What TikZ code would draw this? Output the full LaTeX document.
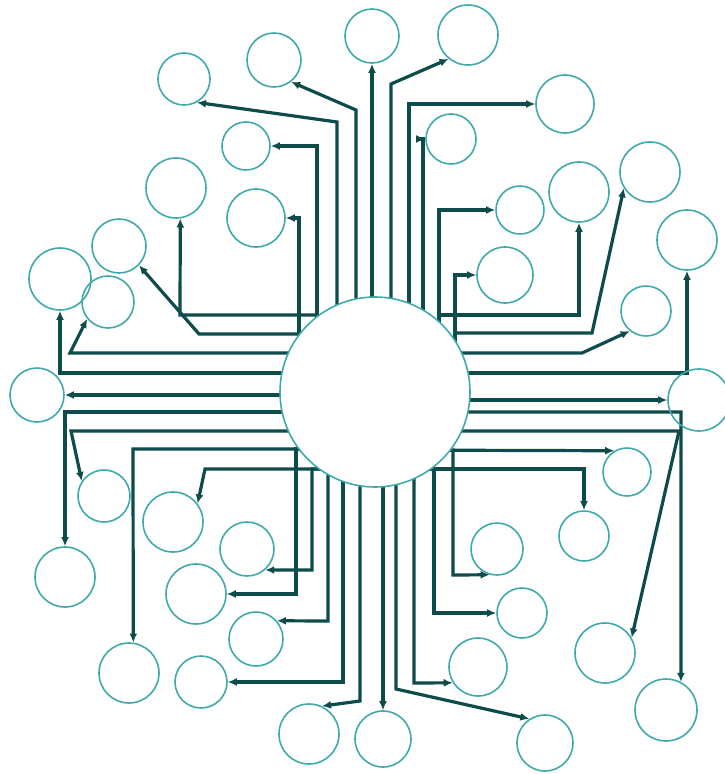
\documentclass[tikz,border=0pt]{standalone}
\usetikzlibrary{arrows.meta,calc,backgrounds}
\definecolor{wire}{RGB}{14,76,76}
\definecolor{ring}{RGB}{64,170,170}
\begin{document}
\begin{tikzpicture}[x=1pt,y=-1pt,
  circ/.style={circle,draw=ring,line width=1.6pt,inner sep=0pt},
  wirearrow/.style={draw=wire,line width=3.2pt,line join=miter,-{Latex[length=9pt,width=8pt]}}]
\useasboundingbox (0,0) rectangle (724,774);
% centre
\node[circ,fill=white,minimum size=190pt] (c) at (375,392) {};
% small circles: name, x, y, radius
\foreach \n/\x/\y/\r in {
  n1/372/36/27, n2/468/35/30, n3/565/104/29, n4/451/139/25, n5/520/210/24,
  n6/579/192/30, n7/650/172/30, n8/505/275/28, n9/687/240/30, n10/646/311/25,
  n11/699/400/31, n12/184/79/26, n13/274/60/27, n14/246/146/24, n15/176/188/30,
  n16/256/218/29, n17/119/246/27, n18/60/279/31, n19/108/302/26, n20/37/395/27,
  n21/104/496/26, n22/65/577/30, n23/173/522/30, n24/247/549/27, n25/196/594/30,
  n26/256/639/27, n27/129/673/30, n28/201/682/26, n29/309/734/30, n30/383/739/28,
  n31/627/472/24, n32/584/536/25, n33/497/549/26, n34/522/613/25, n35/478/667/29,
  n36/605/653/30, n37/666/710/31, n38/545/743/28}
  \node[circ,minimum size={2*\r*1pt}] (\n) at (\x,\y) {};
\begin{scope}[on background layer]
% top
\draw[wirearrow] ($(c.center)+(-3,0)$) -- (n1.south);
\draw[wirearrow] ($(c.center)+(16,0)$) -- (391,84) -- (n2.-129);
\draw[wirearrow] ($(c.center)+(34,0)$) -- (409,104) -- (n3.west);
\draw[wirearrow] ($(c.center)+(48,0)$) -- (423,139) -- (n4.west);
\draw[wirearrow] ($(c.center)+(64,0)$) -- (439,210) -- (n5.west);
\draw[wirearrow] ($(c.center)+(64,0)$) -- (439,315) -- (579,315) -- (n6.south);
\draw[wirearrow] ($(c.center)+(80,0)$) -- (455,275) -- (n8.west);
\draw[wirearrow] ($(c.center)+(80,0)$) -- (455,333) -- (592,333) -- (n7.-148);
% right
\draw[wirearrow] ($(c.center)+(0,-39)$) -- (582,353) -- (n10.-129);
\draw[wirearrow] ($(c.center)+(0,-19)$) -- (687,373) -- (n9.south);
\draw[wirearrow] ($(c.center)+(0,8)$) -- (n11.west);
\draw[wirearrow] ($(c.center)+(0,20)$) -- (681,412) -- (n37.62);
\draw[wirearrow] ($(c.center)+(0,39)$) -- (679,431) -- (n36.30);
\draw[wirearrow] ($(c.center)+(0,58)$) -- (n31.121);
\draw[wirearrow] ($(c.center)+(0,58)$) -- (453,450) -- (453,575) -- (n33.-106);
\draw[wirearrow] ($(c.center)+(0,77)$) -- (584,469) -- (n32.north);
\draw[wirearrow] ($(c.center)+(0,77)$) -- (434,469) -- (434,613) -- (n34.west);
% bottom
\draw[wirearrow] ($(c.center)+(39,0)$) -- (414,683) -- (n35.-148);
\draw[wirearrow] ($(c.center)+(21,0)$) -- (396,689) -- (n38.123);
\draw[wirearrow] ($(c.center)+(8,0)$) -- (n30.north);
\draw[wirearrow] ($(c.center)+(-15,0)$) -- (360,701) -- (n29.65);
\draw[wirearrow] ($(c.center)+(-32,0)$) -- (343,682) -- (n28.east);
\draw[wirearrow] ($(c.center)+(-47,0)$) -- (328,621) -- (n26.41);
% left
\draw[wirearrow] ($(c.center)+(0,77)$) -- (312,469) -- (312,570) -- (n24.-49);
\draw[wirearrow] ($(c.center)+(0,77)$) -- (205,469) -- (n23.37);
\draw[wirearrow] ($(c.center)+(0,57)$) -- (296,449) -- (296,594) -- (n25.east);
\draw[wirearrow] ($(c.center)+(0,57)$) -- (133,449) -- (n27.82);
\draw[wirearrow] ($(c.center)+(0,39)$) -- (71,431) -- (n21.146);
\draw[wirearrow] ($(c.center)+(0,20)$) -- (65,412) -- (n22.north);
\draw[wirearrow] ($(c.center)+(0,3)$) -- (n20.east);
\draw[wirearrow] ($(c.center)+(0,-19)$) -- (60,373) -- (n18.south);
\draw[wirearrow] ($(c.center)+(0,-39)$) -- (70,353) -- (n19.-141);
% top left
\draw[wirearrow] ($(c.center)+(-76,0)$) -- (299,218) -- (n16.east);
\draw[wirearrow] ($(c.center)+(-76,0)$) -- (299,334) -- (199,334) -- (n17.-44);
\draw[wirearrow] ($(c.center)+(-58,0)$) -- (317,146) -- (n14.east);
\draw[wirearrow] ($(c.center)+(-58,0)$) -- (317,315) -- (180,315) -- (n15.-82);
\draw[wirearrow] ($(c.center)+(-38,0)$) -- (337,122) -- (n12.-61);
\draw[wirearrow] ($(c.center)+(-19,0)$) -- (356,110) -- (n13.-52);
\end{scope}
\end{tikzpicture}
\end{document}
